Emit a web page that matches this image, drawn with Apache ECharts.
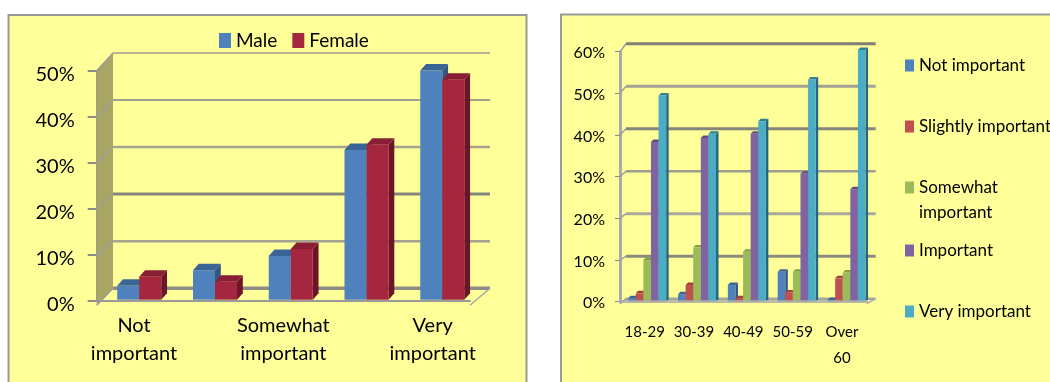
<!DOCTYPE html>
<html>
<head>
<meta charset="utf-8">
<style>html,body{margin:0;padding:0;background:#fff}#c{width:1050px;height:382px}</style>
<script src="https://cdn.jsdelivr.net/npm/echarts@6/dist/echarts.min.js"></script>
</head>
<body>
<div id="c"></div>
<script>
// Importance ratings by gender
const ratingCategories = ['Not important', 'Slightly important', 'Somewhat important', 'Important', 'Very important'];
const maleValues = [3, 6.4, 9.5, 32.5, 49.7];
const femaleValues = [5, 3.9, 11, 33.6, 47.7];
const genderTicks = [0, 10, 20, 30, 40, 50];

// Importance ratings by age group
const ageCategories = ['18-29', '30-39', '40-49', '50-59', 'Over 60'];
const notImportant = [0.8, 1.8, 4, 7.2, 0.4];
const slightlyImportant = [2, 4, 0.8, 2.2, 5.6];
const somewhatImportant = [10, 13, 12, 7.2, 7];
const importantValues = [38.3, 39.3, 40.3, 30.7, 27];
const veryImportant = [49.5, 40.3, 43.3, 53.3, 60.4];
const ageTicks = [0, 10, 20, 30, 40, 50, 60];

const FONT = 'Lato, "Liberation Sans", sans-serif';
const PANEL = '#ffff99';

// Shaded colours for a pseudo-3D column: [front, top, side]
const GENDER_SHADES = { Male: ['#4f81bd', '#3a6496', '#33587f'], Female: ['#a5273f', '#8a1e35', '#6c1428'] };
const AGE_SHADES = {
  'Not important': ['#4f81bd', '#3a6496', '#2f5587'],
  'Slightly important': ['#c0504d', '#a03f3c', '#8c3330'],
  'Somewhat important': ['#9bbb59', '#80a045', '#6f8c3b'],
  'Important': ['#8064a2', '#634c82', '#553f72'],
  'Very important': ['#4bacc6', '#2f7f98', '#27667c']
};

function columnSeries(name, values, idx, count, gridIdx, shades, geo) {
  return {
    type: 'custom', name, xAxisIndex: gridIdx, yAxisIndex: gridIdx, z: 3,
    itemStyle: { color: shades[0] },
    encode: { x: 0, y: 1 },
    data: values.map((v, i) => [i, v]),
    renderItem(params, api) {
      const cat = api.value(0);
      const base = api.coord([cat, 0]);
      const top = api.coord([cat, api.value(1)]);
      const yBase = base[1] - geo.raise;
      const yTop = top[1] - geo.raise;
      const x0 = base[0] + geo.shift + cat * geo.spread + (idx - count / 2) * geo.barW;
      const x1 = x0 + geo.barW;
      const poly = (points, fill) => ({ type: 'polygon', shape: { points }, style: { fill } });
      return {
        type: 'group',
        children: [
          poly([[x1, yBase], [x1 + geo.dx, yBase - geo.dy], [x1 + geo.dx, yTop - geo.dy], [x1, yTop]], shades[2]),
          poly([[x0, yTop], [x1, yTop], [x1 + geo.dx, yTop - geo.dy], [x0 + geo.dx, yTop - geo.dy]], shades[1]),
          { type: 'rect', shape: { x: x0, y: yTop, width: geo.barW, height: yBase - yTop }, style: { fill: shades[0] } }
        ]
      };
    }
  };
}

// Back-wall grid lines and the connectors running out to the front axis
function wallSeries(ticks, gridIdx, cfg) {
  return {
    type: 'custom', xAxisIndex: gridIdx, yAxisIndex: gridIdx, z: 1, silent: true,
    encode: { x: 0, y: 1 },
    data: ticks.map(v => [0, v]),
    renderItem(params, api) {
      const cs = params.coordSys;
      const v = api.value(1);
      const y = api.coord([0, v])[1];
      const lift = cfg.liftLow + (cfg.liftHigh - cfg.liftLow) * v / ticks[ticks.length - 1];
      const style = cfg.lineStyle(v);
      const children = [];
      if (v === 0 && cfg.wallFill) {
        const yTop = cs.y;
        const yBot = cs.y + cs.height + cfg.floorDrop;
        children.push({
          type: 'polygon',
          shape: { points: [[cs.x, yTop], [cs.x + cfg.depth, yTop - cfg.liftHigh], [cs.x + cfg.depth, y - cfg.liftLow], [cs.x, yBot]] },
          style: { fill: cfg.wallFill }
        });
      }
      children.push({
        type: 'line',
        shape: { x1: cs.x + cfg.depth, y1: y - lift, x2: cs.x + cs.width + cfg.backExtra, y2: y - lift },
        style: style
      });
      children.push({
        type: 'line',
        shape: { x1: cs.x, y1: y + (v === 0 ? cfg.floorDrop : 0), x2: cs.x + cfg.depth, y2: y - lift },
        style: { stroke: '#9d9d9d', lineWidth: 1.5 }
      });
      if (v === 0) {
        children.push({
          type: 'line',
          shape: { x1: cs.x + cs.width, y1: y + cfg.floorDrop, x2: cs.x + cs.width + cfg.backExtra, y2: y - lift },
          style: { stroke: '#a5a5a5', lineWidth: 1.5 }
        });
      }
      return { type: 'group', children };
    }
  };
}

const LEFT_LINES = { 0: [3.5, '#8c8c84'], 10: [2.5, '#a4a490'], 20: [3, '#85857f'], 30: [2.5, '#a4a490'], 40: [2, '#9f9f92'], 50: [1.6, '#9d9d90'] };
const RIGHT_LINES = { 0: [2.5, '#a5a59a'], 10: [3, '#8a8a80'], 20: [3, '#a8a89c'], 30: [2.5, '#9c9c90'], 40: [3, '#85857c'], 50: [3, '#a2a296'], 60: [3, '#7f7f76'] };
const lineStyleFrom = table => v => ({ stroke: table[v][1], lineWidth: table[v][0] });

const genderNames = ['Male', 'Female'];
const genderValues = [maleValues, femaleValues];
const ageNames = ratingCategories;
const ageValues = [notImportant, slightlyImportant, somewhatImportant, importantValues, veryImportant];
const ageLegendTops = [48, 109, 145, 233, 294];

const GENDER_GEO = { barW: 22, dx: 5.8, dy: 6.5, shift: 5.2, spread: 1.1, raise: 1.5 };
const AGE_GEO = { barW: 7.6, dx: 2.5, dy: 2.5, shift: 2.5, spread: 0.5, raise: 0 };

const chart = echarts.init(document.getElementById('c'), null, { renderer: 'canvas' });
chart.setOption({
  animation: false,
  backgroundColor: '#ffffff',
  graphic: [
    { type: 'rect', z: -10, shape: { x: 8.5, y: 15, width: 518, height: 372 }, style: { fill: PANEL, stroke: '#9a9a9a', lineWidth: 2 } },
    { type: 'rect', z: -10, shape: { x: 561, y: 14.5, width: 500, height: 372 }, style: { fill: PANEL, stroke: '#9a9a9a', lineWidth: 2 } }
  ],
  grid: [
    { left: 96.7, top: 70.7, width: 373.3, height: 230.5 },
    { left: 620, top: 51.7, width: 246.7, height: 250 }
  ],
  legend: [
    {
      data: genderNames, left: 214, top: 26, orient: 'horizontal', itemWidth: 12, itemHeight: 15, itemGap: 15,
      icon: 'rect', textStyle: { fontFamily: FONT, fontSize: 19, color: '#000' }, selectedMode: false
    }
  ].concat(ageNames.map((name, i) => ({
    data: [name], left: 900, top: ageLegendTops[i], orient: 'vertical', itemWidth: 9, itemHeight: 12,
    icon: 'rect', selectedMode: false,
    formatter: n => n === 'Somewhat important' ? '\nSomewhat\nimportant' : n,
    textStyle: { fontFamily: FONT, fontSize: 17, lineHeight: 25, color: '#000' }
  }))),
  xAxis: [
    {
      type: 'category', gridIndex: 0, data: ratingCategories, offset: 4, z: 2,
      axisLine: { lineStyle: { color: '#9a9a9a', width: 2 } },
      axisTick: { inside: true, length: 4, interval: 0, lineStyle: { color: '#8a8a8a' } },
      axisLabel: {
        interval: 1, margin: 6, fontFamily: FONT, fontSize: 20, lineHeight: 28, color: '#000',
        formatter: s => s.replace(' ', '\n')
      }
    },
    {
      type: 'category', gridIndex: 1, data: ageCategories, offset: 2, z: 5,
      axisLine: { lineStyle: { color: 'rgba(170,170,170,0.8)', width: 3 } },
      axisTick: { length: 5, interval: 0, lineStyle: { color: '#8a8a8a' } },
      axisLabel: {
        interval: 0, margin: 15, fontFamily: FONT, fontSize: 15, lineHeight: 26, color: '#000',
        formatter: s => s.replace(' ', '\n')
      }
    }
  ],
  yAxis: [
    {
      type: 'value', gridIndex: 0, min: 0, max: 50, interval: 10,
      axisLine: { show: true, lineStyle: { color: '#9a9a94', width: 2 } }, splitLine: { show: false },
      axisTick: { show: true, length: 9, lineStyle: { color: '#8e8e8e', width: 2 } },
      axisLabel: { margin: 22, fontFamily: FONT, fontSize: 20, color: '#000', verticalAlign: 'top', lineHeight: 7, formatter: '{value}%' }
    },
    {
      type: 'value', gridIndex: 1, min: 0, max: 60, interval: 10,
      axisLine: { show: true, lineStyle: { color: '#a9a9a9', width: 3 } }, splitLine: { show: false },
      axisTick: { show: true, length: 5, lineStyle: { color: '#8a8a8a' } },
      axisLabel: { margin: 15, fontFamily: FONT, fontSize: 16, color: '#000', verticalAlign: 'top', lineHeight: 3, formatter: '{value}%' }
    }
  ],
  series: [
    wallSeries(genderTicks, 0, {
      depth: 16.3, backExtra: 20, liftLow: 13, liftHigh: 17.7, floorDrop: 4, wallFill: '#a9a663',
      lineStyle: lineStyleFrom(LEFT_LINES)
    }),
    wallSeries(ageTicks, 1, {
      depth: 6, backExtra: 9, liftLow: 3, liftHigh: 8, floorDrop: 2,
      lineStyle: lineStyleFrom(RIGHT_LINES)
    })
  ].concat(
    genderNames.map((n, i) => columnSeries(n, genderValues[i], i, 2, 0, GENDER_SHADES[n], GENDER_GEO)),
    ageNames.map((n, i) => columnSeries(n, ageValues[i], i, 5, 1, AGE_SHADES[n], AGE_GEO))
  )
});
</script>
</body>
</html>
